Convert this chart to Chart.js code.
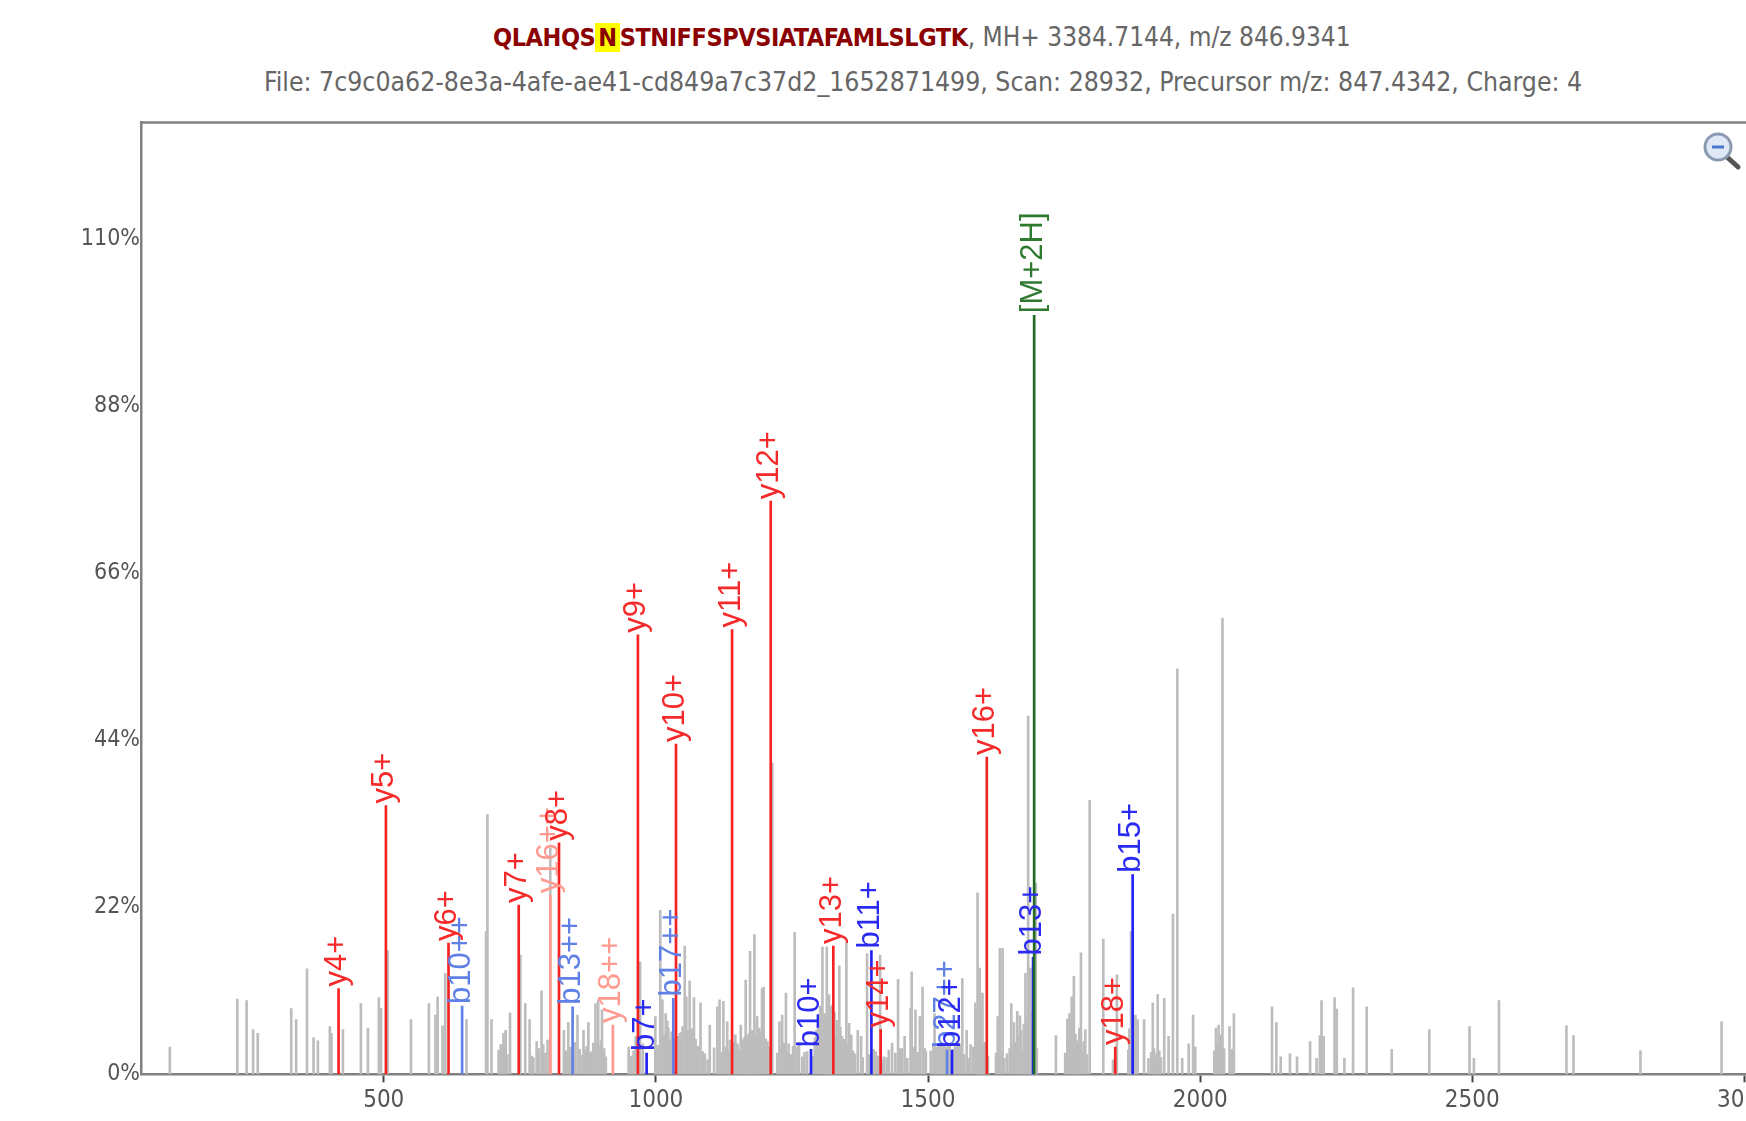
<!DOCTYPE html>
<html>
<head>
<meta charset="utf-8">
<title>Spectrum</title>
<script src="https://cdn.jsdelivr.net/npm/chart.js@4"></script>
<style>
html, body { margin: 0; padding: 0; background: #fff; width: 1746px; height: 1121px; overflow: hidden; }
.line1, .line2 { position: absolute; white-space: nowrap; color: #666; font-family: "DejaVu Sans Condensed", "DejaVu Sans", sans-serif; }
.line1 { left: 493px; top: 19px; height: 37px; line-height: 37px; font-size: 26px; }
.line2 { left: 264px; top: 63px; height: 37px; line-height: 37px; font-size: 26.4px; }
.seq { color: #8b0000; font-weight: bold; font-size: 25px; letter-spacing: -0.45px; }
.seq b { background: #ffff00; padding: 0 3px; font-weight: bold; }
#box { position: absolute; left: 0; top: 110px; width: 1790px; height: 1011px; }
#zoomIcon { position: absolute; left: 1696px; top: 128px; }
</style>
</head>
<body>
<div class="line1"><span class="seq">QLAHQS<b>N</b>STNIFFSPVSIATAFAMLSLGTK</span>, MH+ 3384.7144, m/z 846.9341</div>
<div class="line2">File: 7c9c0a62-8e3a-4afe-ae41-cd849a7c37d2_1652871499, Scan: 28932, Precursor m/z: 847.4342, Charge: 4</div>
<div id="box"><canvas id="spectrum" width="1790" height="1011"></canvas></div>
<svg id="zoomIcon" width="46" height="44" viewBox="0 0 46 44">
  <line x1="31" y1="29" x2="42" y2="39" stroke="#555" stroke-width="5" stroke-linecap="round"/>
  <circle cx="22" cy="19" r="13" fill="#dfe9f5" stroke="#8a9ab0" stroke-width="3"/>
  <line x1="16" y1="19" x2="28" y2="19" stroke="#4a78c8" stroke-width="3"/>
</svg>
<script>
// unmatched peaks
var grayMz = [107,231,248,260,268.5,330,339,359,371,379,401,404,425,458,471,491,495,507,550,583,595,599,608,613,652,688,690.5,698,715,720,724,732,751,760,768,772,781,790,793,801,806,831,839,851,856,867,870,876,882,889,894,897,901,905,
  950,963,971,976,999,1003,1008,1012,1018,1021,1026,1041,1046,1053,1056,1062,1066,1070,1075,1082,1086,1099,1107,1113,1117,1124,1131,1136,1146,1150,1156,1160,1165,1169,1173,1177,1181,1186,1190,1195,1198,1202,1214,1227,1232,1239,1244,1255,1260,1269,1278,1292,1298,1302,1306,1310,1314,1318,1322,1330,1337,1342,1350,1355,1359,1371,1377,1388,1404,1412,1419,1428,1434,1445,1452,1457,1468,1470,1477,1485,1490,
  1496,1512,1517,1522,1527,1532,1537,1549,1554,1558,1563,1571,1578,1587,1591,1595,1600,1604,1628,1632,1637,1640,1653,1658,1664,1669,1673,1679,1684,1688,1692,1698,1735,1756,1760,1764,1768,1773,1778,1781,1786,1789,1797,1822,1847,1870,1873,1881,1885,1897,1913,1917,1922,1925,1934,1942,1950,1958,1967,1979,1987,1991,2029,2034,2038,2041,2054,2059,2062,
  2132,2140,2148,2165,2178,2202,2214,2220,2223,2227,2247,2251,2265,2281,2306,2352,2421,2495,2503,2549,2673,2686,2809,2958];
var grayInt = [3.6,9.9,9.7,5.9,5.4,8.65,7.2,13.9,4.8,4.4,6.3,5.4,5.9,9.35,6.1,10.1,8.7,16.3,7.2,9.3,7.8,10.2,6.4,13.3,7.2,18.8,34.2,7.2,3.9,5.4,5.8,8.1,15.7,9.3,7.2,2.4,4.3,11,3.9,4.5,29.8,5.8,6.8,4.2,7.8,5.8,3.2,6.8,3,9.3,9.8,3.6,8.5,3.4,
  3.6,5,14.8,4,7.6,3.8,21.6,9.8,8,7,4.5,5,5.5,16.9,10.2,12.3,6,10.1,3.4,9.4,3,6.5,3.5,8.9,9.8,9.6,6.9,4.5,5.2,4,6.5,4.4,12.4,5,16.2,5.8,18.4,7.6,6,11.3,11.5,4.6,41,6.9,7.8,10.7,4,18.7,3.6,2.3,3,4.8,7,9,16.8,8,16.8,10.5,8.5,5.2,14.3,5,17.3,6.7,5.2,5.8,5,15.9,3,15.7,2.3,3.2,4.1,12.5,3.4,5,8.7,13.5,8.5,7.6,11.5,
  3,8,3.6,3.8,4,3.6,4,3.6,4.4,4,12.6,5.8,3.9,9.4,23.9,14,10.7,4.2,7.6,16.6,16.6,2.1,9.3,6.8,8.3,7.7,3,13.3,47.2,14,4,25.2,5.1,7.3,8,10.2,12.9,4.4,6.1,16,4.3,5.9,36.1,17.8,13.1,6,18.8,7.8,7.2,7.2,9.4,2.3,10.5,3.1,10,5,21.1,53.4,2.1,4,7.8,3.6,6.1,6.5,5.2,60.1,6.3,3.3,8,
  8.9,6.8,2.3,2.7,2.3,4.3,2.1,5.1,9.7,5,10.1,8.6,2.1,11.4,8.9,3.3,5.9,6.3,2.1,9.7,6.4,5.1,3.1,6.9];

// small peaks in the crowded parts of the spectrum
var lowMz = [711,717,722,727,775,785,797,835,843,848,860,863,873,879,885,892,899,908,
  955,959,966,1005,1015,1023,1029,1035,1039,1044,1049,1059,1068,1073,1078,1090,1095,
  1121,1128,1134,1143,1148,1153,1158,1163,1167,1171,1175,1179,1184,1188,1192,1200,1205,1209,
  1223,1230,1236,1242,1248,1252,1263,1273,1288,1295,1304,1308,1312,1316,1320,1324,1328,1333,1339,1346,1352,1362,1366,1380,1392,1400,1408,1416,1424,1440,1449,1462,1474,1481,1494,
  1505,1510,1515,1520,1525,1530,1535,1540,1546,1551,1556,1561,1566,1575,1583,1589,1593,1598,1602,1606,1610,1625,1630,1635,1645,1650,1656,1661,1667,1671,1676,1681,1686,1690,1696,1700,
  1752,1758,1762,1766,1771,1776,1784,1792,1840,1868,1875,1879,1905,1910,1915,1920,1928,2026,2031,2036,2044,2056];
var lowInt = [3.2,3.8,4.2,2.6,2.2,3.4,2.8,3.1,3.6,2.9,3.3,2.5,3.7,2.8,4.1,3.9,4.4,2.3,
  2.4,3.1,2.9,3.4,5.2,6.1,5.6,4.8,4.2,5.4,6.3,5.8,4.9,4.6,3.7,2.7,1.9,
  2.9,3.6,3.1,4.2,3.8,3.3,4.6,4.9,5.1,5.4,4.8,5.7,5.2,6.1,5.6,4.7,4.3,3.6,
  2.8,3.4,4.1,2.9,2.6,3.7,4.2,2.9,2.4,5.8,6.4,7.2,7.8,8.4,8.9,9.1,8.2,7.1,6.2,4.6,3.8,3.1,2.7,2.2,2.6,3.3,2.4,1.9,2.2,2.8,3.4,2.1,3.6,2.9,3.4,
  3.1,3.7,3.4,3.9,3.6,3.8,3.5,3.7,3.3,3.6,3.2,3.4,2.6,2.1,3.6,4.4,3.8,4.6,3.9,3.2,2.4,2.8,3.6,3.1,2.7,3.4,3.9,4.2,5.1,5.8,6.6,7.4,7.9,8.3,7.2,3.4,
  2.8,4.4,5.2,6.1,5.3,4.1,2.9,2.6,1.9,3.2,4.4,3.6,2.1,2.9,3.4,2.8,2.2,3.1,4.2,3.8,3.4,2.6];

// matched ions, one set of arrays per ion type
var yLabels = ['y4+','y5+','y6+','y7+','y8+','y9+','y10+','y11+','y12+','y13+','y14+','y16+','y18+'];
var yMz = [417,504,619,748,822,967,1037,1140,1211,1326,1413,1608,1844];
var yInt = [11.3,35.4,17.3,22.3,30.5,57.9,43.5,58.6,75.5,16.9,5.9,41.8,3.6];

var bLabels = ['b7+','b10+','b11+','b12+','b13+','b15+'];
var bMz = [983,1285,1396,1544,1693,1876];
var bInt = [2.8,3.3,16.3,3.2,15.4,26.3];

var y2Labels = ['y16++','y18++'];
var y2Mz = [806,921];
var y2Int = [23.6,6.5];

var b2Labels = ['b10++','b13++','b17++','b27++'];
var b2Mz = [644,847,1032,1535];
var b2Int = [9,8.9,10,3.2];

var precLabels = ['[M+2H]'];
var precMz = [1695];
var precInt = [100];

var xTicks = [500,1000,1500,2000,2500,3000];
var yTicks = [0,22,44,66,88,110];

function toPoints(xs, ys){
    return xs.map(function(x, i){ return {x: x, y: ys[i]}; });
}

function ionSet(name, xs, ys, labels, color, labelColor, order, width){
    return {
        type: 'bar',
        label: name,
        data: toPoints(xs, ys),
        backgroundColor: color,
        barThickness: width,
        grouped: false,
        order: order,
        ionLabels: labels,
        labelColor: labelColor
    };
}

// rotated text above each matched peak
var ionLabelPlugin = {
    id: 'ionLabels',
    afterDatasetsDraw: function(chart){
        var ctx = chart.ctx;
        chart.data.datasets.forEach(function(ds, i){
            if(!ds.ionLabels) return;
            chart.getDatasetMeta(i).data.forEach(function(bar, j){
                ctx.save();
                ctx.translate(bar.x - 1, bar.y - 2);
                ctx.rotate(-Math.PI / 2);
                ctx.font = '31px "Liberation Sans"';
                ctx.fillStyle = ds.labelColor;
                ctx.textAlign = 'left';
                ctx.textBaseline = 'middle';
                ctx.fillText(ds.ionLabels[j], 0, 0);
                ctx.restore();
            });
        });
    }
};

var topLinePlugin = {
    id: 'topLine',
    afterDraw: function(chart){
        var a = chart.chartArea, ctx = chart.ctx;
        ctx.save();
        ctx.strokeStyle = '#808080';
        ctx.lineWidth = 2.5;
        ctx.beginPath();
        ctx.moveTo(a.left - 1, a.top);
        ctx.lineTo(a.right, a.top);
        ctx.stroke();
        ctx.restore();
    }
};

new Chart(document.getElementById('spectrum'), {
    type: 'bar',
    data: {
        datasets: [
            ionSet('low', lowMz, lowInt, null, '#bdbdbd', null, 7, 2),
            ionSet('peaks', grayMz, grayInt, null, '#bdbdbd', null, 6, 2),
            ionSet('y2', y2Mz, y2Int, y2Labels, '#ff9a90', '#ff9a90', 5, 2),
            ionSet('b2', b2Mz, b2Int, b2Labels, '#5f80e6', '#5f80e6', 4, 2),
            ionSet('b', bMz, bInt, bLabels, '#2222f5', '#2a2af0', 3, 2),
            ionSet('y', yMz, yInt, yLabels, '#f52222', '#f52a2a', 2, 2),
            ionSet('prec', precMz, precInt, precLabels, '#1f6b1f', '#2e7a2e', 1, 2)
        ]
    },
    plugins: [ionLabelPlugin, topLinePlugin],
    options: {
        responsive: false,
        animation: false,
        layout: { padding: { top: 12.4, right: 20, left: 0, bottom: 0 } },
        plugins: { legend: { display: false }, tooltip: { enabled: false } },
        scales: {
            x: {
                type: 'linear',
                offset: false,
                min: 54,
                max: 3047,
                afterFit: function(s){ s.height = 46.7; },
                afterBuildTicks: function(s){ s.ticks = xTicks.map(function(v){ return {value: v}; }); },
                border: { color: '#808080', width: 2.5 },
                grid: { offset: false, drawOnChartArea: false, tickLength: 8, tickColor: '#444', tickWidth: 2 },
                ticks: {
                    color: '#555',
                    padding: 4,
                    maxRotation: 0,
                    autoSkip: false,
                    font: { family: 'DejaVu Sans Condensed', size: 24 },
                    callback: function(v){ return String(v); }
                }
            },
            y: {
                min: 0,
                max: 125.4,
                afterFit: function(s){ s.width = 141; s.paddingTop = 0; s.paddingBottom = 0; },
                afterBuildTicks: function(s){ s.ticks = yTicks.map(function(v){ return {value: v}; }); },
                border: { color: '#808080', width: 2.5 },
                grid: { display: false, drawTicks: false },
                ticks: {
                    color: '#555',
                    padding: 1,
                    font: { family: 'DejaVu Sans Condensed', size: 23 },
                    callback: function(v){ return v + '%'; }
                }
            }
        }
    }
});
</script>
</body>
</html>
